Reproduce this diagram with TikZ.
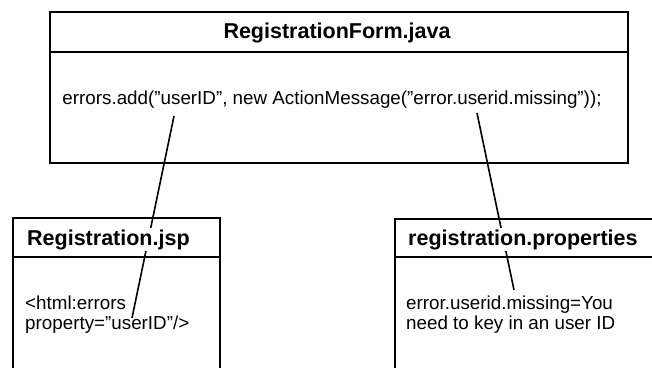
\documentclass[tikz,border=0pt]{standalone}
\usepackage{fontspec}
\setmainfont{Liberation Sans}
\begin{document}
\begin{tikzpicture}[x=1pt,y=-1pt,
  boxline/.style={line width=2pt},
  sepline/.style={line width=1.6pt},
  link/.style={line width=1.6pt},
  titletext/.style={font=\fontsize{21.5}{23}\selectfont\bfseries, fill=white, inner sep=1pt},
  bodytext/.style={font=\fontsize{18.8}{20}\selectfont, inner sep=0pt, align=left}]
  \useasboundingbox (0,0) rectangle (652,367);
  \clip (0,0) rectangle (652,367);

  % class box: RegistrationForm.java
  \node[boxline, draw, minimum width=578pt, minimum height=151pt, anchor=north west, inner sep=0pt] (form) at (49,11) {};
  \draw[sepline] (49,52) -- (627,52);
  % JSP box, runs past the lower edge
  \node[boxline, draw, minimum width=207pt, minimum height=170pt, anchor=north west, inner sep=0pt] (jsp) at (12,217) {};
  \draw[sepline] (12,257) -- (219,257);
  % properties box, runs past the right and lower edges
  \node[boxline, draw, minimum width=280pt, minimum height=170pt, anchor=north west, inner sep=0pt] (props) at (394,218) {};
  \draw[sepline] (394,257) -- (674,257);

  % connector end points
  \coordinate (uidref) at (174,116);
  \coordinate (uiduse) at (132,318);
  \coordinate (keyref) at (477,113);
  \coordinate (keydef) at (514,290);
  \draw[link] (uidref) -- (uiduse);
  \draw[link] (keyref) -- (keydef);

  % texts
  \node[titletext, anchor=base] (formtitle) at (337,38) {RegistrationForm.java};
  \node[bodytext, anchor=base] (formbody) at (332,104) {errors.add(”userID”, new ActionMessage(”error.userid.missing”));};
  \node[titletext, anchor=base west] (jsptitle) at (26,245) {Registration.jsp};
  \node[bodytext, anchor=base west] (jspbody) at (25,329) {<html:errors\\property=”userID”/>};
  \node[titletext, anchor=base west] (propstitle) at (407,245) {registration.properties};
  \node[bodytext, anchor=base west] (propsbody) at (406,329) {error.userid.missing=You\\need to key in an user ID};
\end{tikzpicture}
\end{document}
